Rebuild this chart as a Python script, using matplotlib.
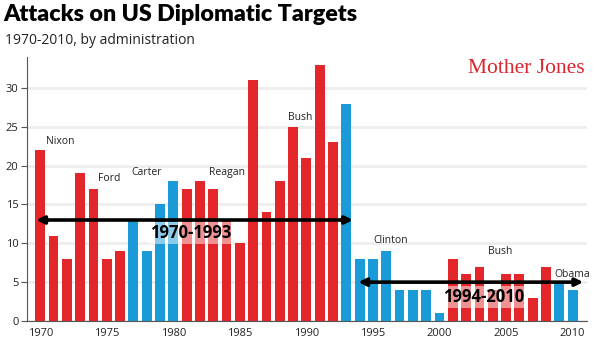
import numpy as np
import matplotlib
matplotlib.use("Agg")
import matplotlib.pyplot as plt

plt.rcParams['font.family'] = ['Open Sans', 'DejaVu Sans']

years = list(range(1970, 2011))
attacks = [22, 11, 8, 19, 17, 8, 9, 13, 9, 15, 18, 17, 18, 17, 13, 10,
           31, 14, 18, 25, 21, 33, 23, 28, 8, 8, 9, 4, 4, 4, 1, 8,
           6, 7, 4, 6, 6, 3, 7, 5, 4]
# party of the administration for each year: R / D
party = list("RRRRRRRDDDDRRRRRRRRRRRRDDDDDDDDRRRRRRRRDD")

presidents = ["Nixon", "Ford", "Carter", "Reagan", "Bush", "Clinton", "Bush", "Obama"]
president_x = [1971.5, 1975.2, 1978.0, 1984.0, 1989.5, 1996.35, 2004.55, 2009.96]
president_y = [23.1, 18.3, 19.1, 19.1, 26.2, 10.4, 8.9, 6.0]

periods = ["1970-1993", "1994-2010"]
period_start = [1969.7, 1993.9]
period_end = [1993.5, 2010.8]
period_level = [13, 5]
period_label_x = [1981.3, 2003.3]
period_label_y = [11.3, 3.1]

RED = '#e2262a'
BLUE = '#1a9ad6'

fig = plt.figure(figsize=(5.98, 3.47), dpi=100)
ax = fig.add_axes([0.045, 0.075, 0.937, 0.761])

colors = [RED if p == "R" else BLUE for p in party]
ax.bar(years, attacks, width=0.74, color=colors, zorder=2)

ax.set_xlim(1969.0, 2011.1)
ax.set_ylim(0, 34)
ax.set_yticks(range(0, 35, 5))
ax.set_xticks(range(1970, 2011, 5))
ax.yaxis.grid(True, color='#eeeeee', linewidth=2, zorder=0)
ax.set_axisbelow(True)
for s in ['top', 'right']:
    ax.spines[s].set_visible(False)
ax.spines['left'].set_color('#555555')
ax.spines['bottom'].set_color('#555555')
ax.tick_params(axis='y', length=4, color='#555555', labelsize=8, labelcolor='#222222', pad=2)
ax.tick_params(axis='x', length=0, labelsize=8, labelcolor='#222222', pad=5)

for name, x, y in zip(presidents, president_x, president_y):
    ax.text(x, y, name, ha='center', va='center', fontsize=7.5, color='#222222', zorder=4)

for lab, x0, x1, lvl, lx, ly in zip(periods, period_start, period_end, period_level,
                                    period_label_x, period_label_y):
    ax.annotate('', xy=(x1, lvl), xytext=(x0, lvl),
                arrowprops=dict(arrowstyle='<|-|>', color='black', lw=2.6,
                                mutation_scale=11, shrinkA=0, shrinkB=0),
                zorder=5)
    ax.text(lx, ly, lab, ha='center', va='center', fontsize=12, fontweight='bold',
            color='black', zorder=6,
            bbox=dict(boxstyle='square,pad=0.12', facecolor='white', alpha=0.5,
                      edgecolor='none'))

title = fig.text(0.005, 0.988, "Attacks on US Diplomatic Targets", ha='left', va='top',
                 fontsize=24, fontweight='heavy', color='black', family=['Lato', 'Open Sans'])
# shrink the title so it ends around x=358 px
renderer = fig.canvas.get_renderer()
w = title.get_window_extent(renderer).width
if w > 355:
    title.set_fontsize(24 * 355 / w)

fig.text(0.008, 0.905, "1970-2010, by administration", ha='left', va='top',
         fontsize=10, color='#222222')
fig.text(0.978, 0.804, "Mother Jones", ha='right', va='center', fontsize=15.5,
         color='#d9262f', family=['Liberation Serif', 'DejaVu Serif'])

fig.savefig('out.png', dpi=100)
